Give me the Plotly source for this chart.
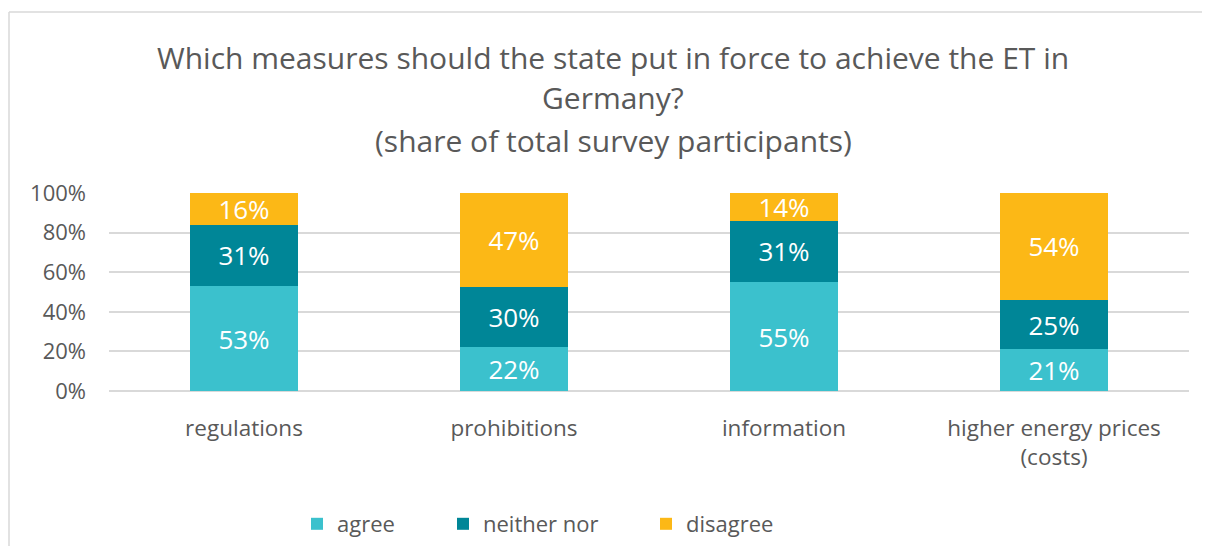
import plotly.graph_objects as go

categories = ["regulations", "prohibitions", "information", "higher energy prices<br>(costs)"]
agree = [53, 22, 55, 21]
neither = [31, 30, 31, 25]
disagree = [16, 47, 14, 54]
series_names = ["agree", "neither nor", "disagree"]
colors = ["#3BC1CD", "#008697", "#FCB816"]
y_ticks = [0, 0.2, 0.4, 0.6, 0.8, 1.0]
y_tick_labels = ["0%", "20%", "40%", "60%", "80%", "100%"]
title_lines = ["Which measures should the state put in force to achieve the ET in",
               "Germany?",
               "(share of total survey participants)"]

FONT = "Open Sans, Noto Sans, sans-serif"
GREY = "#595959"

# page body has an 8px margin; work in figure coordinates
W, H = 1202, 538
L, R, T, B = 101, 21, 185, 155
PW, PH = W - L - R, H - T - B

def px_x(px):
    return (px - L) / PW

def px_y(py):
    return (H - B - py) / PH

legend_names = ["legend", "legend2", "legend3"]
legend_x = [289, 435, 638]

fig = go.Figure()
for name, vals, col, lg in zip(series_names, [agree, neither, disagree], colors, legend_names):
    fig.add_trace(go.Bar(
        x=categories, y=vals, name=name, legend=lg,
        marker=dict(color=col, line=dict(width=0)),
        text=[f"{v}%" for v in vals], textposition="inside",
        insidetextanchor="middle", constraintext="none",
        textfont=dict(color="white", size=26, family=FONT),
        hoverinfo="skip",
    ))

legend_common = dict(orientation="h", y=px_y(516), yanchor="middle",
                     xanchor="left", font=dict(size=22, color=GREY, family=FONT),
                     itemwidth=30, bgcolor="rgba(0,0,0,0)")
fig.update_layout(
    width=W, height=H,
    margin=dict(l=L, r=R, t=T, b=B, autoexpand=False),
    barmode="stack", barnorm="fraction", bargap=0.6,
    plot_bgcolor="white", paper_bgcolor="white",
    font=dict(family=FONT, color=GREY),
    showlegend=True,
    legend=dict(x=px_x(legend_x[0]), **legend_common),
    legend2=dict(x=px_x(legend_x[1]), **legend_common),
    legend3=dict(x=px_x(legend_x[2]), **legend_common),
)
fig.update_xaxes(showgrid=False, showline=False, zeroline=False,
                 tickfont=dict(size=22.5, color=GREY, family=FONT),
                 ticklabelstandoff=21, automargin=False)
fig.update_yaxes(range=[0, 1.0], tickvals=y_ticks, ticktext=y_tick_labels,
                 showgrid=True, gridcolor="#D9D9D9", gridwidth=1.5,
                 zeroline=True, zerolinecolor="#D9D9D9", zerolinewidth=1.5,
                 showline=False, tickfont=dict(size=22, color=GREY, family=FONT),
                 ticklabelstandoff=22, automargin=False)

for line, cy in zip(title_lines, [49, 90, 132]):
    fig.add_annotation(
        text=line, xref="paper", yref="paper", x=px_x(605), y=px_y(cy),
        xanchor="center", yanchor="middle", showarrow=False,
        font=dict(size=30, color=GREY, family=FONT), align="center",
    )

# chart area border (cropped at right and bottom)
fig.add_shape(type="line", xref="paper", yref="paper",
              x0=px_x(1), x1=px_x(1), y0=px_y(4), y1=px_y(H + 5),
              line=dict(color="#D9D9D9", width=1.5))
fig.add_shape(type="line", xref="paper", yref="paper",
              x0=px_x(1), x1=px_x(W + 5), y0=px_y(4), y1=px_y(4),
              line=dict(color="#D9D9D9", width=1.5))

fig.write_html("out.html")
